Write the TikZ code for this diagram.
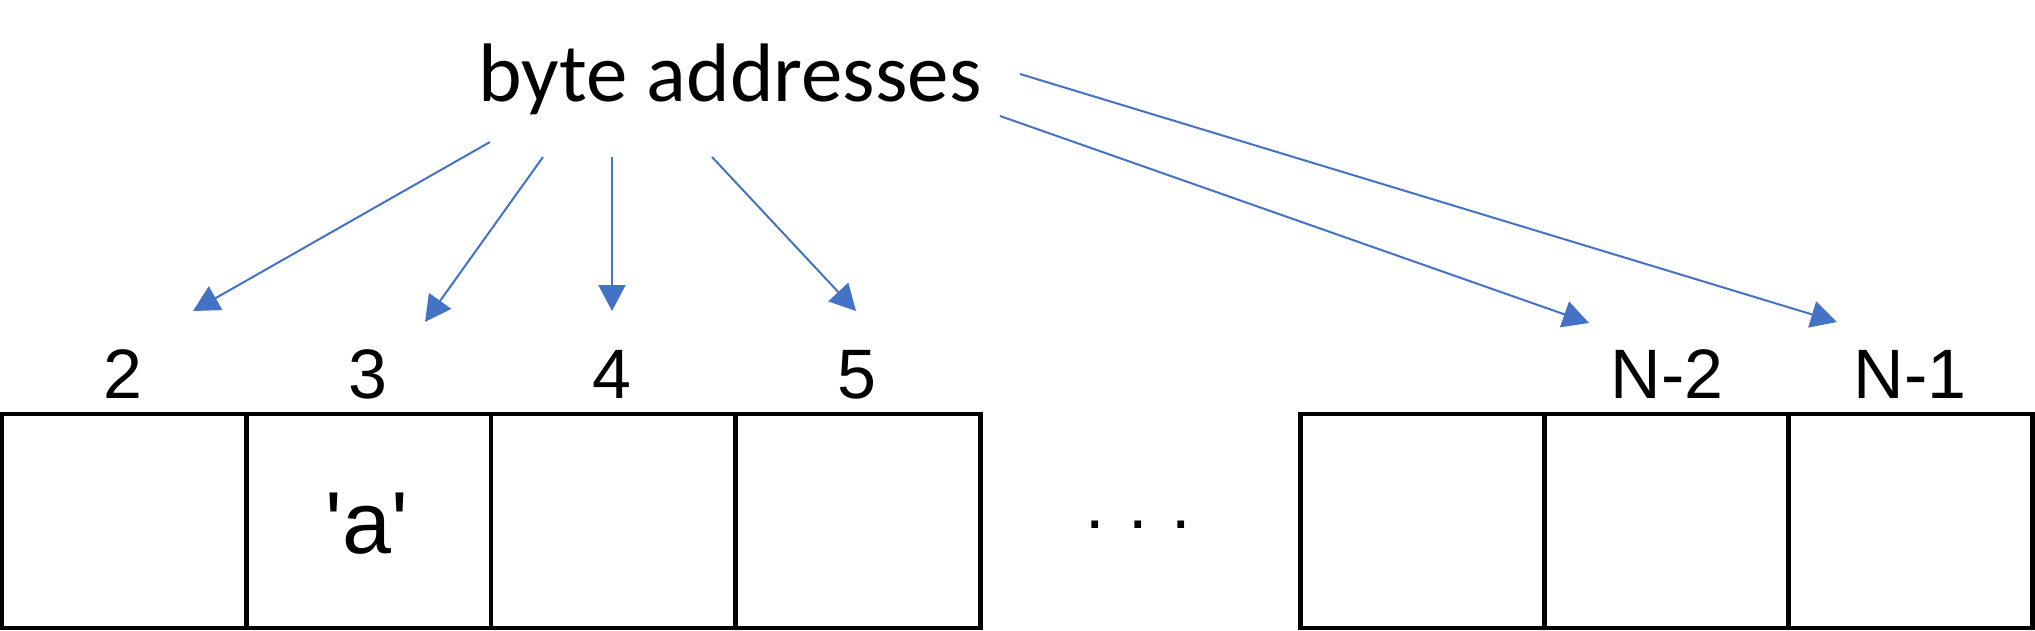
\documentclass[tikz,border=0pt]{standalone}
\usepackage{fontspec}
\setmainfont{Liberation Sans}
\newfontfamily\carlito{Carlito}
\usetikzlibrary{arrows.meta}
\definecolor{arrowblue}{HTML}{4472C4}
\tikzset{
  cell/.style={draw=black, line width=2.25pt, minimum width=122.5pt, minimum height=107pt, inner sep=0pt, outer sep=0pt},
  idx/.style={anchor=base, inner sep=0pt, font=\fontsize{35pt}{42pt}\selectfont},
  ptr/.style={draw=arrowblue, line width=1pt, -{Triangle[length=13pt,width=13.5pt]}},
}
\begin{document}
\begin{tikzpicture}[x=0.5pt,y=-0.5pt]
\useasboundingbox (0,0) rectangle (2035,631);
% memory cells
\node[cell] (c2) at (124,521) {};
\node[cell] (c3) at (368.5,521) {};
\node[cell] (c4) at (613.5,521) {};
\node[cell] (c5) at (858,521) {};
\node[cell, minimum width=122pt] (cn3) at (1422.5,521) {};
\node[cell, minimum width=122pt] (cn2) at (1666.5,521) {};
\node[cell, minimum width=122pt] (cn1) at (1910.5,521) {};
% contents
\node[anchor=base, inner sep=0pt, font=\fontsize{44pt}{50pt}\selectfont] (va) at (367,553) {\textquotesingle a\textquotesingle};
\node[idx] (dots) at (1138,528) {.\,\,.\,\,.};
% index labels
\node[idx] (l2) at (123,398) {2};
\node[idx] (l3) at (368,398) {3};
\node[idx] (l4) at (612,398) {4};
\node[idx] (l5) at (857,398) {5};
\node[idx] (ln2) at (1667,398) {N-2};
\node[idx] (ln1) at (1910,398) {N-1};
% title
\node[anchor=base, inner sep=0pt, font=\carlito\fontsize{41.5pt}{48pt}\selectfont] (title) at (730,102) {byte addresses};
% arrow endpoints
\coordinate (s1) at (490,142);  \coordinate (t1) at (193,311);
\coordinate (s2) at (543,157);  \coordinate (t2) at (425,322);
\coordinate (s3) at (612,157);  \coordinate (t3) at (612,311);
\coordinate (s4) at (712,157);  \coordinate (t4) at (856,311);
\coordinate (s5) at (1000,116); \coordinate (t5) at (1589,323);
\coordinate (s6) at (1020,74);  \coordinate (t6) at (1837,322);
\draw[ptr] (s1) -- (t1);
\draw[ptr] (s2) -- (t2);
\draw[ptr] (s3) -- (t3);
\draw[ptr] (s4) -- (t4);
\draw[ptr] (s5) -- (t5);
\draw[ptr] (s6) -- (t6);
\end{tikzpicture}
\end{document}
